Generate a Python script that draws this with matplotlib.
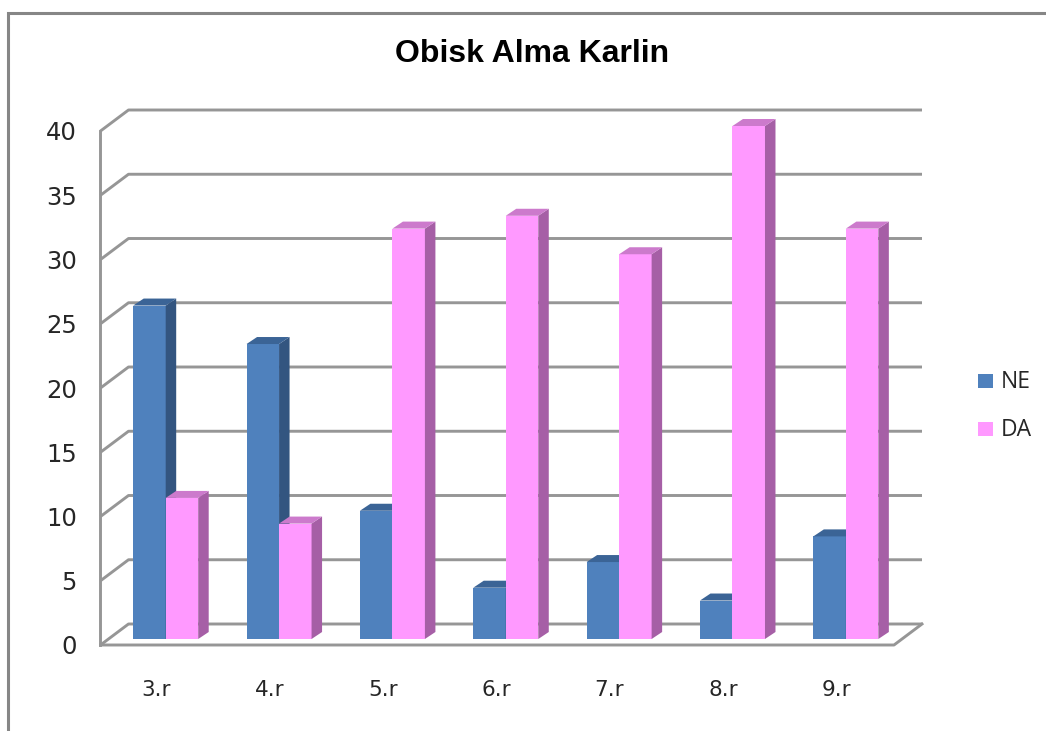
import matplotlib
matplotlib.use("Agg")
import matplotlib.pyplot as plt
from matplotlib.patches import Polygon, Rectangle

categories = ["3.r", "4.r", "5.r", "6.r", "7.r", "8.r", "9.r"]
ne_values = [26, 23, 10, 4, 6, 3, 8]
da_values = [11, 9, 32, 33, 30, 40, 32]
y_ticks = [0, 5, 10, 15, 20, 25, 30, 35, 40]

W, H = 1046, 731
fig = plt.figure(figsize=(W / 100, H / 100), dpi=100, facecolor="white")

bg = fig.add_axes([0, 0, 1, 1])
bg.set_xlim(0, W)
bg.set_ylim(H, 0)
bg.axis("off")
bg.plot([8, 8, W], [H, 12.5, 12.5], color="#868686", lw=2.2, solid_joinstyle="miter")

L, R, B, T = 100.5, 894.0, 645.0, 131.0
ax = fig.add_axes([L / W, 1 - B / H, (R - L) / W, (B - T) / H])
ax.set_xlim(0, len(categories))
ax.set_ylim(0, 40)
ax.patch.set_visible(False)
for s in ax.spines.values():
    s.set_visible(False)
ax.set_xticks([i + 0.49 for i in range(len(categories))])
ax.set_xticklabels(categories, fontsize=15.5, color="#262626", family="DejaVu Sans")
ax.set_yticks(y_ticks)
ax.set_yticklabels([str(v) for v in y_ticks], fontsize=17.5, color="#262626", family="DejaVu Sans")
ax.tick_params(length=0)
ax.tick_params(axis="x", pad=25)
ax.tick_params(axis="y", pad=17)

px_x = len(categories) / (R - L)
px_y = 40 / (B - T)
GRID = "#969696"
LW = 2.1
dx_wall, dy_wall = 28 * px_x, 21 * px_y
n = len(categories)

for v in y_ticks:
    ax.plot([0, dx_wall, n + dx_wall], [v, v + dy_wall, v + dy_wall],
            color=GRID, lw=LW, clip_on=False, zorder=1, solid_capstyle="butt")
ax.plot([0, 0], [0, 40], color=GRID, lw=LW, clip_on=False, zorder=1.5)
ax.plot([0, n, n + dx_wall], [0, 0, dy_wall], color=GRID, lw=LW, clip_on=False, zorder=1.5)

base = (645 - 639) * px_y
scale = (639 - 126) / 40 * px_y
bar_w = 32.5 * px_x
x0 = (133.2 - L) * px_x
dx, dy = 10.5 * px_x, 7 * px_y


def bar3d(x, val, face, side, top, z):
    h = val * scale
    ax.add_patch(Rectangle((x, base), bar_w, h, facecolor=face, edgecolor="none",
                           zorder=z, clip_on=False))
    ax.add_patch(Polygon([(x + bar_w, base), (x + bar_w + dx, base + dy),
                          (x + bar_w + dx, base + h + dy), (x + bar_w, base + h)],
                         facecolor=side, edgecolor="none", zorder=z, clip_on=False))
    ax.add_patch(Polygon([(x, base + h), (x + dx, base + h + dy),
                          (x + bar_w + dx, base + h + dy), (x + bar_w, base + h)],
                         facecolor=top, edgecolor="none", zorder=z, clip_on=False))


for i, (a, b) in enumerate(zip(ne_values, da_values)):
    xi = x0 + i
    bar3d(xi, a, "#4F81BD", "#335580", "#3B6496", 3)
    bar3d(xi + bar_w, b, "#FF99FF", "#A65FA6", "#CC7ACC", 4)

bg.text(532, 53.5, "Obisk Alma Karlin", ha="center", va="center", fontsize=23,
        fontweight="bold", family="Liberation Sans", color="black")
for y, label, color in [(381, "NE", "#4F81BD"), (429, "DA", "#FF99FF")]:
    bg.add_patch(Rectangle((978, y - 7.5), 15, 14.5, facecolor=color, edgecolor="none"))
    bg.text(1001, y + 1, label, ha="left", va="center", fontsize=16.5, color="#262626",
            family="Open Sans")

fig.savefig("out.png", dpi=100, facecolor="white")
